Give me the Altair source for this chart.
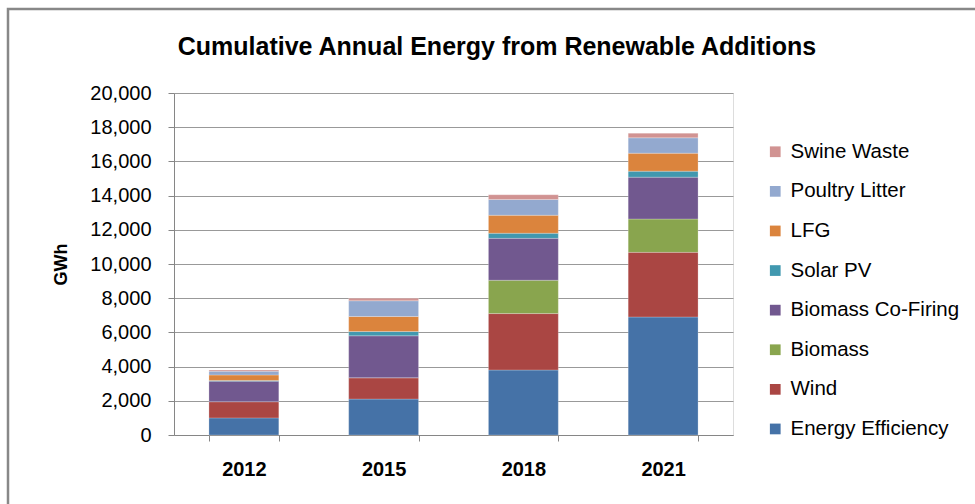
import altair as alt
import pandas as pd

title_text = "Cumulative Annual Energy from Renewable Additions"
years = ["2012", "2015", "2018", "2021"]
series = ["Energy Efficiency", "Wind", "Biomass", "Biomass Co-Firing",
          "Solar PV", "LFG", "Poultry Litter", "Swine Waste"]
colors = ["#4572A7", "#AA4643", "#89A54E", "#71588F",
          "#4198AF", "#DB843D", "#93A9CF", "#D19392"]

energy_efficiency = [1000, 2100, 3800, 6900]
wind = [950, 1250, 3300, 3780]
biomass = [0, 0, 1950, 1950]
biomass_cofiring = [1200, 2450, 2450, 2450]
solar_pv = [40, 250, 300, 350]
lfg = [320, 880, 1050, 1050]
poultry_litter = [220, 920, 920, 900]
swine_waste = [70, 150, 280, 270]

values = [energy_efficiency, wind, biomass, biomass_cofiring,
          solar_pv, lfg, poultry_litter, swine_waste]

rows = []
for i, (name, vals) in enumerate(zip(series, values)):
    for y, v in zip(years, vals):
        rows.append({"Year": y, "Source": name, "GWh": v, "order": i})
df = pd.DataFrame(rows)

FONT = "Liberation Sans"

bars = alt.Chart(df).mark_bar(stroke="white", strokeWidth=0.4, strokeOpacity=0.6).encode(
    x=alt.X("Year:N", sort=years,
            scale=alt.Scale(paddingInner=0.5, paddingOuter=0.25),
            axis=alt.Axis(title=None, labelAngle=0, tickBand="extent",
                          labelFont=FONT, labelFontSize=20, labelFontWeight="bold",
                          labelColor="#000000", labelPadding=18,
                          domainColor="#868686", tickColor="#868686",
                          tickSize=6, grid=False)),
    y=alt.Y("GWh:Q", stack="zero",
            scale=alt.Scale(domain=[0, 20000], nice=False),
            axis=alt.Axis(values=list(range(0, 20001, 2000)), format=",.0f",
                          title="GWh", titleFont=FONT, titleFontSize=18,
                          titleFontWeight="bold", titleColor="#000000",
                          titleAngle=270, titleX=-108, titleY=171,
                          titleAlign="center", titleBaseline="alphabetic",
                          labelFont=FONT, labelFontSize=20, labelColor="#000000",
                          labelPadding=17, tickSize=6,
                          domainColor="#868686", tickColor="#868686",
                          gridColor="#999999", gridWidth=1)),
    color=alt.Color("Source:N",
                    scale=alt.Scale(domain=series[::-1], range=colors[::-1]),
                    legend=alt.Legend(title=None, orient="none", legendX=591, legendY=48.5,
                                      symbolType="square", symbolSize=115,
                                      symbolStrokeWidth=0, labelFont=FONT,
                                      labelFontSize=20.5, labelColor="#000000",
                                      rowPadding=18.6, labelOffset=5, padding=0,
                                      labelLimit=300)),
    order=alt.Order("order:Q", sort="ascending"),
)

frame = alt.Chart(alt.Data(values=[{}])).mark_rect(
    fill=None, stroke="#888888", strokeWidth=2.5
).encode(
    x=alt.value(-166), x2=alt.value(900),
    y=alt.value(-84), y2=alt.value(500),
)

title = alt.Chart(alt.Data(values=[{"t": title_text}])).mark_text(
    font=FONT, fontSize=25, fontWeight="bold", color="#000000",
    align="center", baseline="alphabetic"
).encode(
    text="t:N", x=alt.value(323), y=alt.value(-38),
)

chart = alt.layer(frame, bars, title).properties(
    width=559, height=342,
    autosize=alt.AutoSizeParams(type="none"),
    padding={"left": 174, "top": 93, "right": 242, "bottom": 69},
).configure_view(stroke=None).configure(background="white")

chart.save("out.html", embed_options={"renderer": "svg", "actions": False})
